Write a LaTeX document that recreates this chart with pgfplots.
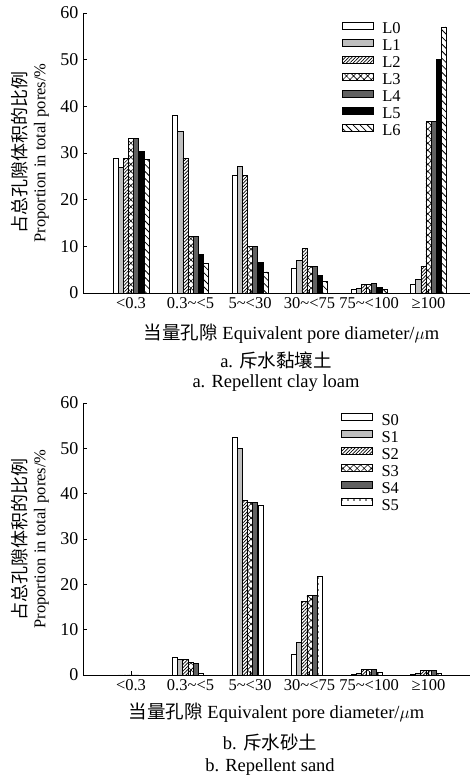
\documentclass[border=0pt]{standalone}
\usepackage{fontspec}
\setmainfont{Liberation Serif}
\newfontfamily\cjk{Noto Sans CJK SC}
\usepackage{pgfplots}
\usepackage{pgfplotstable}
\pgfplotsset{compat=1.18}
\usetikzlibrary{patterns,patterns.meta}

\pgfplotstableread{
x L0 L1 L2 L3 L4 L5 L6
0 28.9 26.9 28.9 33.1 33.1 30.3 28.7
1 38.0 34.6 28.9 12.2 12.2 8.3 6.3
2 25.2 27.2 25.2 9.9 9.9 6.5 4.5
3 5.2 7.0 9.5 5.7 5.7 3.7 2.5
4 0.8 1.0 1.8 1.8 2.0 1.2 0.8
5 1.8 2.9 5.7 36.8 36.8 50.0 57.0
}\toptable

\pgfplotstableread{
x S0 S1 S2 S3 S4 S5
0 0 0 0 0 0 0
1 3.8 3.5 3.5 2.8 2.6 0.4
2 52.4 50.0 38.5 38.0 38.0 37.4
3 4.6 7.2 16.2 17.5 17.5 21.8
4 0.2 0.3 1.3 1.3 1.3 0.6
5 0.1 0.3 1.1 1.1 1.1 0.3
}\bottable

\newcommand{\fs}{\fontsize{16.5}{19}\selectfont}
\newcommand{\fl}{\fontsize{18.5}{21}\selectfont}
\newcommand{\fy}{\fontsize{18}{20}\selectfont}

\pgfplotsset{
  mybar/.style={ybar, draw=black, line width=0.6pt,
    legend image code/.code={\draw[##1, line width=0.6pt] (0pt,1.8pt) rectangle (31pt,8.8pt);}},
  tbar/.style={mybar, bar width=0.086, bar shift=#1},
  bbar/.style={mybar, bar width=0.087, bar shift=#1},
  s0/.style={fill=white},
  s1/.style={fill=black!25},
  s2/.style={pattern={Lines[angle=45,distance=2.4pt,line width=0.7pt]}, pattern color=black},
  s3/.style={pattern={Hatch[angle=45,distance=5pt,line width=0.6pt]}, pattern color=black},
  s4/.style={fill=black!62},
  s5/.style={fill=black},
  s6/.style={pattern={Lines[angle=-45,distance=5pt,line width=0.8pt]}, pattern color=black},
  sdots/.style={pattern={Dots[distance=6pt,radius=0.8pt]}, pattern color=black},
  common/.style={
    scale only axis, width=387pt,
    xmin=-0.807, xmax=5.697, ymin=0, ymax=60,
    axis lines*=left, axis line style={line width=0.7pt},
    tick align=inside, major tick length=4pt,
    tick style={line width=0.6pt, black},
    xtick={0,1,2,3,4,5},
    xticklabels={<0.3, 0.3\textasciitilde<5, 5\textasciitilde<30, 30\textasciitilde<75, 75\textasciitilde<100, ≥100},
    ytick={0,10,...,60},
    /pgf/number format/assume math mode=true,
    xticklabel style={font=\fs, yshift=-1pt},
    yticklabel style={font=\fy, xshift=-1pt},
    ylabel={{\cjk\fontsize{18}{21}\selectfont 占总孔隙体积的比例}\\Proportion in total pores/\%},
    ylabel style={at={(axis description cs:0,0.5)}, anchor=center, yshift=53pt, align=center, font=\fs},
    xlabel style={at={(axis description cs:0.5,0)}, anchor=center, font=\fl},
    legend style={draw=none, fill=none, font=\fs, anchor=north west,
      row sep=0pt, inner sep=0pt,
      nodes={inner sep=0pt, text height=10.8pt, text depth=5pt},
      /tikz/every odd column/.append style={column sep=9pt}},
    legend cell align=left,
  },
}

\begin{document}
\begin{tikzpicture}
\useasboundingbox (0pt,0pt) rectangle (472pt,776pt);
\begin{axis}[common, at={(83pt,483pt)}, anchor=south west, height=280pt,
  xlabel={{\cjk 当量孔隙} Equivalent pore diameter/$\mu$m},
  xlabel style={yshift=-41pt, xshift=15pt},
  legend style={at={(axis description cs:0.668,0.969)}}]
\addplot[tbar=-0.258, s0] table[x=x,y=L0] {\toptable};
\addplot[tbar=-0.172, s1] table[x=x,y=L1] {\toptable};
\addplot[tbar=-0.086, s2] table[x=x,y=L2] {\toptable};
\addplot[tbar=0, s3] table[x=x,y=L3] {\toptable};
\addplot[tbar=0.086, s4] table[x=x,y=L4] {\toptable};
\addplot[tbar=0.172, s5] table[x=x,y=L5] {\toptable};
\addplot[tbar=0.258, s6] table[x=x,y=L6] {\toptable};
\legend{L0,L1,L2,L3,L4,L5,L6}
\end{axis}
\node[font=\fl] at (276pt,416pt) {a. {\cjk 斥水黏壤土}};
\node[font=\fl] at (276pt,393pt) {a. Repellent clay loam};

\begin{axis}[common, at={(83pt,101pt)}, anchor=south west, height=272pt,
  xlabel={{\cjk 当量孔隙} Equivalent pore diameter/$\mu$m},
  xlabel style={yshift=-38pt},
  legend style={at={(axis description cs:0.666,0.963)}}]
\addplot[bbar=-0.262, s0] table[x=x,y=S0] {\bottable};
\addplot[bbar=-0.175, s1] table[x=x,y=S1] {\bottable};
\addplot[bbar=-0.087, s2] table[x=x,y=S2] {\bottable};
\addplot[bbar=0, s3] table[x=x,y=S3] {\bottable};
\addplot[bbar=0.087, s4] table[x=x,y=S4] {\bottable};
\addplot[bbar=0.175, sdots] table[x=x,y=S5] {\bottable};
\legend{S0,S1,S2,S3,S4,S5}
\end{axis}
\node[font=\fl] at (270pt,33pt) {b. {\cjk 斥水砂土}};
\node[font=\fl] at (270pt,9pt) {b. Repellent sand};
\end{tikzpicture}
\end{document}
